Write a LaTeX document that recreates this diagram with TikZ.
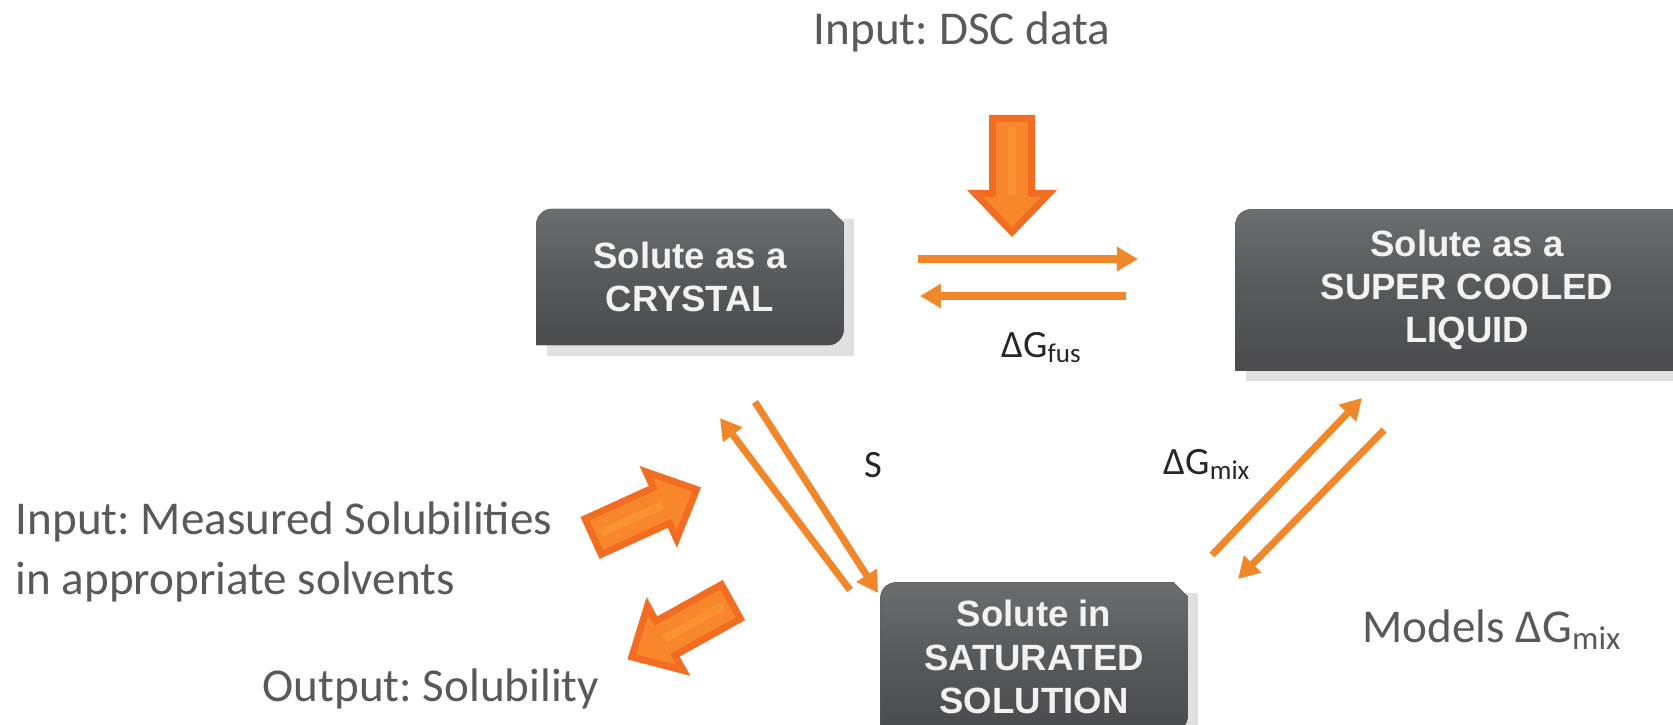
\documentclass[tikz,border=0pt]{standalone}
\usepackage{fontspec}
\setmainfont{Carlito}
\newfontfamily\boxfont{Liberation Sans}
\frenchspacing
\usetikzlibrary{arrows.meta,backgrounds}
\definecolor{BoxGray}{HTML}{58595B}
\definecolor{BoxTop}{HTML}{6C6D6F}
\definecolor{BoxText}{HTML}{F2F2F2}
\definecolor{Flow}{HTML}{F0882B}
\definecolor{ArrDark}{HTML}{F26C22}
\definecolor{ArrLight}{HTML}{F8872C}
\definecolor{ArrHigh}{HTML}{F99A3C}
\definecolor{Label}{HTML}{595959}
\tikzset{bigarrow/.pic={
\fill[ArrDark](0,-23)--(75,-23)--(75,-45)--(122,0)--(75,45)--(75,23)--(0,23)--cycle;
\fill[ArrLight](7,-16)--(82,-16)--(82,-28.6)--(112,0)--(82,28.6)--(82,16)--(7,16)--cycle;
\fill[ArrHigh,opacity=.6](12,-4)--(80,-4)--(80,4)--(12,4)--cycle;}}

\begin{document}
\begin{tikzpicture}[x=0.1mm,y=-0.1mm,
solbox/.style={font=\boxfont\bfseries\fontsize{10.4}{12.3}\selectfont,text=BoxText,align=center,inner sep=0pt},
flow/.style={draw=Flow,line width=2pt,-{Triangle[length=6pt,width=6.6pt]}},
lbl/.style={text=Label,font=\fontsize{13.4}{17.2}\selectfont,inner sep=0pt},
dg/.style={text=black!85,font=\fontsize{11}{13}\selectfont,inner sep=0pt}]
\useasboundingbox(0,0)rectangle(1673,724);
\clip(0,0)rectangle(1673,724);
% states
\node[solbox,minimum width=30.6mm,minimum height=13.5mm](crystal)at(690,277){Solute as a\\CRYSTAL};
\node[solbox,minimum width=46.2mm,minimum height=16mm](liquid)at(1467,290){Solute as a\\SUPER COOLED\\LIQUID};
\node[solbox,minimum width=30.6mm,minimum height=14.8mm](solution)at(1034,657){Solute in\\SATURATED\\SOLUTION};
\begin{scope}[on background layer]
\clip(0,0)rectangle(1673,724);
\foreach \b in {crystal,liquid,solution}{
\fill[black!12]([xshift=3pt,yshift=-3pt]\b.south west)rectangle([xshift=3pt,yshift=-3pt]\b.north east);
\fill[top color=BoxTop,bottom color=BoxGray!85!black,middle color=BoxGray](\b.south west)--([yshift=-4.5pt]\b.north west)arc[start angle=180,end angle=90,radius=4.5pt]--([xshift=-4pt]\b.north east)--([yshift=-4pt]\b.north east)--([yshift=4.5pt]\b.south east)arc[start angle=0,end angle=-90,radius=4.5pt]--cycle;}
\end{scope}
% big arrows
\pic(dscin)at(1012,115)[rotate=-90]{bigarrow};
\pic(measin)at(590,538)[rotate=24.5]{bigarrow};
\pic(solout)at(734,600)[rotate=209.1]{bigarrow};
% equilibria
\coordinate(fa)at(918,259);\coordinate(fb)at(1138,259);
\coordinate(fc)at(1126,296);\coordinate(fd)at(920,296);
\coordinate(sa)at(755,402);\coordinate(sb)at(878,593);
\coordinate(sc)at(850,590);\coordinate(sd)at(720,418);
\coordinate(ma)at(1212,555);\coordinate(mb)at(1362,398);
\coordinate(mc)at(1384,430);\coordinate(md)at(1238,579);
\draw[flow](fa)--(fb);
\draw[flow](fc)--(fd);
\draw[flow](sa)--(sb);
\draw[flow](sc)--(sd);
\draw[flow](ma)--(mb);
\draw[flow](mc)--(md);
% labels
\node[dg,anchor=base](gfus)at(1042,357){ΔG\textsubscript{fus}};
\node[dg,anchor=base](slbl)at(873,477){S};
\node[dg,anchor=base west](gmix)at(1163,474){ΔG\textsubscript{mix}};
\node[lbl,anchor=base](dsc)at(962,45){Input: DSC data};
\node[lbl,anchor=west,align=left](meas)at(15,552){Input: Measured Solubilities\\in appropriate solvents};
\node[lbl,anchor=base west](outsol)at(262,701){Output: Solubility};
\node[lbl,anchor=base west](models)at(1362,642){Models ΔG\textsubscript{mix}};
\end{tikzpicture}
\end{document}
